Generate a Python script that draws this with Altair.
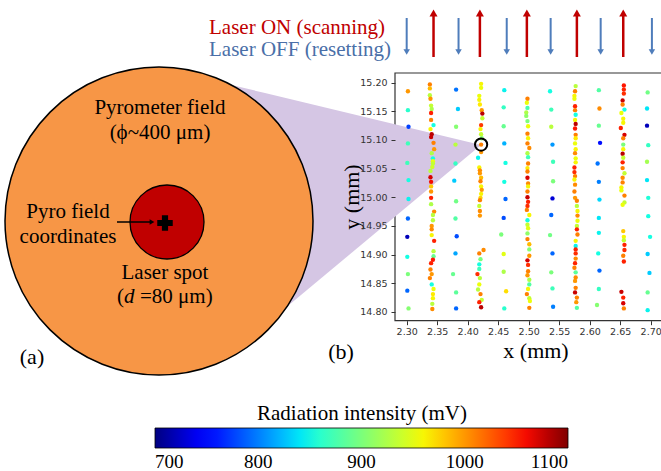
import altair as alt
import pandas as pd

# ---------------- data: pyrometer map (x, y in mm; v in mV) ----------------
# reset lines (laser OFF) - sparse points
r1_x = [2.302, 2.302, 2.303, 2.302, 2.301, 2.303, 2.303, 2.302, 2.301, 2.301, 2.302, 2.301, 2.303]
r1_y = [15.185, 15.152, 15.123, 15.094, 15.060, 15.030, 14.997, 14.963, 14.931, 14.896, 14.866, 14.837, 14.806]
r1_v = [1000, 860, 775, 870, 870, 850, 845, 790, 720, 850, 900, 790, 905]

r2_x = [2.381, 2.384, 2.381, 2.380, 2.380, 2.378, 2.381, 2.380, 2.382, 2.380, 2.376, 2.381, 2.381]
r2_y = [15.188, 15.154, 15.123, 15.092, 15.059, 15.029, 14.993, 14.963, 14.932, 14.902, 14.866, 14.834, 14.806]
r2_v = [795, 830, 905, 930, 865, 830, 895, 880, 780, 815, 890, 885, 790]

r3_x = [2.460, 2.459, 2.459, 2.460, 2.462, 2.460, 2.462, 2.459, 2.455, 2.459, 2.459, 2.463, 2.460]
r3_y = [15.187, 15.157, 15.124, 15.094, 15.060, 15.027, 14.997, 14.964, 14.935, 14.901, 14.870, 14.836, 14.806]
r3_v = [845, 865, 890, 820, 850, 850, 790, 780, 900, 950, 925, 970, 860]

r4_x = [2.535, 2.537, 2.537, 2.539, 2.540, 2.540, 2.539, 2.537, 2.535, 2.539, 2.537, 2.539, 2.540]
r4_y = [15.185, 15.153, 15.123, 15.092, 15.062, 15.028, 14.998, 14.969, 14.934, 14.902, 14.869, 14.841, 14.809]
r4_v = [850, 870, 930, 810, 870, 900, 730, 790, 895, 790, 900, 870, 800]

r5_x = [2.615, 2.616, 2.615, 2.617, 2.613, 2.615, 2.616, 2.615, 2.615, 2.614, 2.616, 2.615, 2.612]
r5_y = [15.187, 15.155, 15.125, 15.095, 15.059, 15.027, 14.996, 14.964, 14.938, 14.902, 14.872, 14.840, 14.812]
r5_v = [880, 1005, 890, 755, 795, 800, 835, 840, 845, 850, 790, 865, 905]

r6_x = [2.695, 2.694, 2.694, 2.696, 2.694, 2.694, 2.696, 2.696, 2.699, 2.695, 2.698, 2.695, 2.695]
r6_y = [15.183, 15.155, 15.125, 15.091, 15.062, 15.030, 14.999, 14.967, 14.931, 14.901, 14.868, 14.834, 14.803]
r6_v = [895, 840, 720, 865, 920, 840, 855, 850, 850, 830, 830, 890, 845]

# scan lines (laser ON) - dense points
s1_x = [2.338, 2.338, 2.338, 2.339, 2.340, 2.341, 2.340, 2.340, 2.344, 2.339, 2.341, 2.340, 2.344,
        2.345, 2.341, 2.343, 2.343, 2.343, 2.342, 2.339, 2.339, 2.340, 2.340, 2.340, 2.340,
        2.340, 2.345, 2.343, 2.343, 2.341, 2.341, 2.341, 2.345, 2.344, 2.344, 2.343, 2.340,
        2.339, 2.341, 2.338, 2.341, 2.344, 2.343, 2.343, 2.342, 2.342]
s1_y = [15.197, 15.190, 15.178, 15.172, 15.160, 15.154, 15.147, 15.135, 15.126, 15.119, 15.110, 15.105, 15.095,
        15.084, 15.077, 15.068, 15.063, 15.059, 15.053, 15.046, 15.035, 15.027, 15.019, 15.010, 14.999,
        14.988, 14.975, 14.969, 14.960, 14.950, 14.944, 14.934, 14.924, 14.906, 14.897, 14.891, 14.885,
        14.874, 14.866, 14.859, 14.848, 14.840, 14.831, 14.824, 14.814, 14.805]
s1_v = [1010, 985, 930, 1000, 935, 925, 1050, 1010, 850, 960, 1080, 1075, 1010,
        1000, 925, 850, 955, 935, 940, 930, 1070, 1060, 980, 1000, 1050,
        925, 1005, 930, 930, 1000, 1005, 960, 1050, 930, 890, 1055, 1050,
        1010, 1000, 1010, 850, 955, 965, 960, 930, 1005]

s2_x = [2.422, 2.422, 2.419, 2.419, 2.420, 2.423, 2.424, 2.424, 2.422, 2.421, 2.422, 2.423, 2.422,
        2.422, 2.417, 2.419, 2.420, 2.420, 2.422, 2.421, 2.422, 2.423, 2.422, 2.421,
        2.420, 2.419, 2.420, 2.420, 2.426, 2.419, 2.421, 2.419, 2.419, 2.416, 2.420, 2.419,
        2.417, 2.421, 2.423, 2.419, 2.422]
s2_y = [15.198, 15.191, 15.177, 15.170, 15.162, 15.152, 15.146, 15.138, 15.126, 15.119, 15.110, 15.103, 15.092,
        15.079, 15.069, 15.052, 15.047, 15.042, 15.034, 15.028, 15.019, 15.013, 15.006, 14.999,
        14.995, 14.985, 14.976, 14.968, 14.908, 14.902, 14.892, 14.883, 14.875, 14.866, 14.859, 14.848,
        14.839, 14.831, 14.821, 14.817, 14.808]
s2_v = [960, 955, 955, 960, 965, 1000, 1080, 935, 1040, 960, 935, 905, 1010,
        1000, 845, 960, 1005, 1000, 985, 1010, 960, 1000, 960, 975,
        1010, 935, 1005, 1000, 1005, 1010, 900, 850, 870, 1045, 930, 955,
        930, 1010, 935, 1050, 1080]

s3_x = [2.498, 2.497, 2.498, 2.496, 2.496, 2.498, 2.499, 2.498, 2.499, 2.498, 2.501, 2.498, 2.499,
        2.499, 2.498, 2.498, 2.498, 2.499, 2.499, 2.498,
        2.498, 2.499, 2.498, 2.497, 2.501, 2.498, 2.498, 2.499, 2.498, 2.498, 2.501, 2.501,
        2.501, 2.498, 2.499, 2.499, 2.498, 2.501, 2.501, 2.499, 2.497, 2.501, 2.502, 2.501]
s3_y = [15.172, 15.165, 15.156, 15.148, 15.142, 15.133, 15.124, 15.111, 15.103, 15.094, 15.086, 15.077, 15.070,
        15.059, 15.051, 15.045, 15.034, 15.024, 15.019, 15.010,
        15.000, 14.992, 14.985, 14.978, 14.969, 14.960, 14.952, 14.946, 14.937, 14.927, 14.918, 14.909,
        14.898, 14.890, 14.882, 14.871, 14.864, 14.856, 14.848, 14.840, 14.831, 14.824, 14.819, 14.807]
s3_v = [1010, 955, 875, 925, 910, 900, 955, 1010, 960, 1010, 1005, 925, 870,
        1010, 965, 1010, 1070, 1005, 960, 1010,
        1075, 1050, 1045, 1010, 960, 850, 935, 950, 910, 1010, 985, 905,
        1000, 1070, 1045, 1010, 1000, 925, 880, 960, 1010, 935, 955, 1010]

s4_x = [2.577, 2.576, 2.575, 2.575, 2.576, 2.576, 2.577, 2.576, 2.577, 2.576, 2.577, 2.577, 2.576,
        2.577, 2.576, 2.577, 2.577, 2.575, 2.575, 2.576, 2.575, 2.576, 2.575, 2.576,
        2.579, 2.579, 2.580, 2.580, 2.580, 2.579, 2.579, 2.580, 2.577, 2.577, 2.577, 2.577,
        2.577, 2.576, 2.575, 2.577, 2.577, 2.576, 2.577, 2.576, 2.579, 2.578, 2.579]
s4_y = [15.194, 15.185, 15.177, 15.172, 15.159, 15.152, 15.144, 15.135, 15.128, 15.120, 15.109, 15.103, 15.094,
        15.084, 15.077, 15.068, 15.061, 15.052, 15.044, 15.037, 15.031, 15.022, 15.010, 14.999,
        14.994, 14.985, 14.976, 14.968, 14.959, 14.950, 14.944, 14.935, 14.924, 14.915, 14.909, 14.902,
        14.893, 14.885, 14.877, 14.869, 14.860, 14.854, 14.842, 14.834, 14.825, 14.817, 14.807]
s4_v = [930, 1010, 960, 955, 1050, 1010, 850, 960, 1080, 1055, 1010, 965, 955,
        960, 1005, 955, 960, 1050, 1045, 1010, 960, 1005, 1010, 1000,
        1010, 930, 960, 1005, 955, 935, 1050, 1010, 960, 845, 1050, 1045,
        1005, 1050, 1010, 885, 1005, 1000, 1010, 1075, 1010, 1000, 880]

s5_x = [2.656, 2.656, 2.656, 2.654, 2.654, 2.657, 2.652, 2.655, 2.655, 2.651, 2.657, 2.655, 2.655,
        2.655, 2.654, 2.655, 2.654, 2.654, 2.657, 2.654, 2.654, 2.652, 2.652, 2.657,
        2.657, 2.654, 2.655, 2.656, 2.656, 2.657, 2.657, 2.655, 2.656,
        2.652, 2.655, 2.655, 2.656]
s5_y = [15.195, 15.188, 15.181, 15.169, 15.162, 15.153, 15.147, 15.137, 15.130, 15.121, 15.109, 15.103, 15.092,
        15.084, 15.076, 15.069, 15.061, 15.051, 15.042, 15.034, 15.026, 15.017, 15.012, 15.003,
        14.991, 14.987, 14.941, 14.931, 14.925, 14.917, 14.908, 14.898, 14.888,
        14.835, 14.825, 14.815, 14.806]
s5_v = [1055, 1050, 1045, 1075, 1010, 850, 955, 960, 960, 1050, 1070, 1010, 900,
        960, 1080, 935, 1050, 1010, 935, 1005, 1010, 960, 955, 1010,
        935, 955, 980, 960, 935, 1050, 1045, 1010, 1050,
        1075, 1050, 1070, 1010]

# circled measurement point
ring_x = [2.422]
ring_y = [15.092]

# scan direction arrows (x in mm)
on_x = [2.344, 2.420, 2.497, 2.579, 2.655]
off_x = [2.300, 2.385, 2.464, 2.536, 2.618, 2.702]

# colour bar / axis ticks
cbar_ticks = [700, 800, 900, 1000, 1100]
x_ticks = [2.30, 2.35, 2.40, 2.45, 2.50, 2.55, 2.60, 2.65, 2.70]
y_ticks = [14.80, 14.85, 14.90, 14.95, 15.00, 15.05, 15.10, 15.15, 15.20]

# ---------------- build tables ----------------
xs, ys, vs = [], [], []
for cx, cy, cv in [(r1_x, r1_y, r1_v), (r2_x, r2_y, r2_v), (r3_x, r3_y, r3_v),
                   (r4_x, r4_y, r4_v), (r5_x, r5_y, r5_v), (r6_x, r6_y, r6_v),
                   (s1_x, s1_y, s1_v), (s2_x, s2_y, s2_v), (s3_x, s3_y, s3_v),
                   (s4_x, s4_y, s4_v), (s5_x, s5_y, s5_v)]:
    xs += cx
    ys += cy
    vs += cv
scatter_df = pd.DataFrame({"x": xs, "y": ys, "v": vs})

W, H = 661, 471
SERIF = "Liberation Serif"
RED = "#c00000"
BLUE = "#4f7dbb"
TXTBLUE = "#4a6fa8"

# mm scales mapped onto the whole canvas (plot box sits inside it)
mm_x = alt.Scale(domain=[1.6333, 2.7169], nice=False, zero=False)
mm_y = alt.Scale(domain=[14.5223, 15.3443], nice=False, zero=False)

jet_dom = [700, 744, 750, 836, 840, 850, 956, 964, 1056, 1064, 1100]
jet_rng = ["#000080", "#0000ff", "#0000ff", "#00dbff", "#00e6f7", "#14ffe2",
           "#eeff08", "#ffec00", "#ff1300", "#e80000", "#800000"]
jet = alt.Scale(domain=jet_dom, range=jet_rng, interpolate="rgb", clamp=True)

axX = alt.Axis(orient="bottom", offset=-150.3, values=x_ticks, format=".2f", domain=False,
               grid=False, tickSize=4, tickColor="#333", labelFont="DejaVu Sans",
               labelFontSize=9.5, labelColor="#333", labelPadding=2, title=None,
               labelOverlap=False, labelFlush=False, zindex=1)
axY = alt.Axis(orient="left", offset=-395, values=y_ticks, format=".2f", domain=False,
               grid=False, tickSize=4, tickColor="#333", labelFont="DejaVu Sans",
               labelFontSize=9.5, labelColor="#333", labelPadding=4, title=None,
               labelOverlap=False, labelFlush=False, zindex=1)

one = pd.DataFrame({"k": [0]})


def px(f):
    return alt.X(f, type="quantitative", scale=None, axis=None)


def py(f):
    return alt.Y(f, type="quantitative", scale=None, axis=None)


# plot frame (right spine falls outside the picture)
frame = alt.Chart(one).mark_rect(fillOpacity=0, stroke="#333", strokeWidth=1.2).encode(
    x=alt.value(395), x2=alt.value(700), y=alt.value(73), y2=alt.value(320.7))

# zoom wedge
wedge_df = pd.DataFrame({"x": [159, 210, 265, 481], "top": [221, 80, 93, 145],
                         "bot": [221, 272, 325, 145]})
wedge = alt.Chart(wedge_df).mark_area(color="#d5c6e4", opacity=1, interpolate="linear").encode(
    x=px("x"), y=py("top"), y2=alt.Y2("bot"))

# pyrometer field and laser spot
outer = alt.Chart(one).mark_point(shape="circle", filled=True, opacity=1, fill="#f79646",
                                  stroke="black", strokeWidth=1.5, size=308 ** 2).encode(
    x=alt.value(159), y=alt.value(221))
inner = alt.Chart(one).mark_point(shape="circle", filled=True, opacity=1, fill=RED,
                                  stroke="black", strokeWidth=1.3, size=74 ** 2).encode(
    x=alt.value(167), y=alt.value(222))

cross = alt.Chart(one).mark_point(shape="cross", filled=True, opacity=1, fill="black",
                                  strokeWidth=0, size=240).encode(x=alt.value(165), y=alt.value(223))

ptr_line = alt.Chart(one).mark_rule(color="black", strokeWidth=1.3).encode(
    x=alt.value(117), x2=alt.value(151), y=alt.value(222))
ptr_head = alt.Chart(one).mark_point(shape="triangle-right", filled=True, opacity=1,
                                     fill="black", strokeWidth=0, size=30).encode(
    x=alt.value(152), y=alt.value(222))

# texts
txt_df = pd.DataFrame({
    "t": ["Pyrometer field", "(\u03d5~400 \u03bcm)", "Pyro field", "coordinates", "Laser spot",
          "(a)", "(b)", "x (mm)"],
    "x": [160, 160, 68, 68, 165, 32, 341, 536],
    "y": [108, 133, 212, 237, 273, 357, 352, 351],
    "s": [21, 21, 21, 21, 21, 22, 22, 22]})
texts = alt.Chart(txt_df).mark_text(font=SERIF, align="center", baseline="middle",
                                    color="black").encode(
    x=px("x"), y=py("y"), text="t:N", size=alt.Size("s:Q", scale=None, legend=None))

dtxt_df = pd.DataFrame({"t": ["(", "d", "=80 \u03bcm)"], "x": [117, 124, 140]})
dtxt1 = alt.Chart(dtxt_df.iloc[[0, 2]]).mark_text(font=SERIF, fontSize=21, align="left",
                                                   baseline="middle", color="black").encode(
    x=px("x"), y=alt.value(297), text="t:N")
dtxt2 = alt.Chart(dtxt_df.iloc[[1]]).mark_text(font=SERIF, fontSize=21, fontStyle="italic",
                                                align="left", baseline="middle",
                                                color="black").encode(
    x=px("x"), y=alt.value(297), text="t:N")

ytitle = alt.Chart(one).mark_text(font=SERIF, fontSize=22, angle=270, align="center",
                                  baseline="middle", color="black", text="y (mm)").encode(
    x=alt.value(352), y=alt.value(197))

on_txt = alt.Chart(one).mark_text(font=SERIF, fontSize=21, align="left", baseline="middle",
                                  color=RED, text="Laser ON (scanning)").encode(
    x=alt.value(209), y=alt.value(28))
off_txt = alt.Chart(one).mark_text(font=SERIF, fontSize=21, align="left", baseline="middle",
                                   color=TXTBLUE, text="Laser OFF (resetting)").encode(
    x=alt.value(209), y=alt.value(50))

# scatter
scatter = alt.Chart(scatter_df).mark_circle(size=19, opacity=1).encode(
    x=alt.X("x:Q", scale=mm_x, axis=axX),
    y=alt.Y("y:Q", scale=mm_y, axis=axY),
    color=alt.Color("v:Q", scale=jet, legend=alt.Legend(
        orient="none", legendX=155, legendY=403, direction="horizontal",
        gradientLength=413, gradientThickness=20, padding=0,
        title="Radiation intensity (mV)", titleFont=SERIF, titleFontSize=21,
        titleFontWeight="normal", titleColor="black", titleAnchor="middle", titlePadding=4,
        titleLimit=600,
        labelFont=SERIF, labelFontSize=19, labelColor="black", labelAlign="center",
        labelOffset=5, labelOverlap=False, values=cbar_ticks, format="d",
        gradientStrokeColor="black", gradientStrokeWidth=0.8)))

ring = alt.Chart(pd.DataFrame({"x": ring_x, "y": ring_y})).mark_point(
    shape="circle", size=150, filled=False, stroke="black", strokeWidth=2, opacity=1).encode(
    x=alt.X("x:Q", scale=mm_x, axis=axX), y=alt.Y("y:Q", scale=mm_y, axis=axY))

# scan direction arrows
on_df = pd.DataFrame({"x": on_x})
off_df = pd.DataFrame({"x": off_x})
on_rule = alt.Chart(on_df).mark_rule(color=RED, strokeWidth=2.5).encode(
    x=alt.X("x:Q", scale=mm_x, axis=axX), y=alt.value(57), y2=alt.value(15))
on_head = alt.Chart(on_df).mark_point(shape="triangle-up", filled=True, opacity=1, fill=RED,
                                      strokeWidth=0, size=64).encode(
    x=alt.X("x:Q", scale=mm_x, axis=axX), y=alt.value(13))
off_rule = alt.Chart(off_df).mark_rule(color=BLUE, strokeWidth=2).encode(
    x=alt.X("x:Q", scale=mm_x, axis=axX), y=alt.value(18), y2=alt.value(50))
off_head = alt.Chart(off_df).mark_point(shape="triangle-down", filled=True, opacity=1, fill=BLUE,
                                        strokeWidth=0, size=42).encode(
    x=alt.X("x:Q", scale=mm_x, axis=axX), y=alt.value(52))

chart = alt.layer(
    frame, wedge, outer, inner, cross, ptr_line, ptr_head, texts, dtxt1, dtxt2,
    ytitle, on_txt, off_txt, scatter, ring, on_rule, on_head, off_rule, off_head
).properties(
    width=W, height=H, padding=0, autosize=alt.AutoSizeParams(type="none"),
    background="white"
).configure_view(stroke=None)

chart.save("out.html", embed_options={"renderer": "svg", "actions": False})
